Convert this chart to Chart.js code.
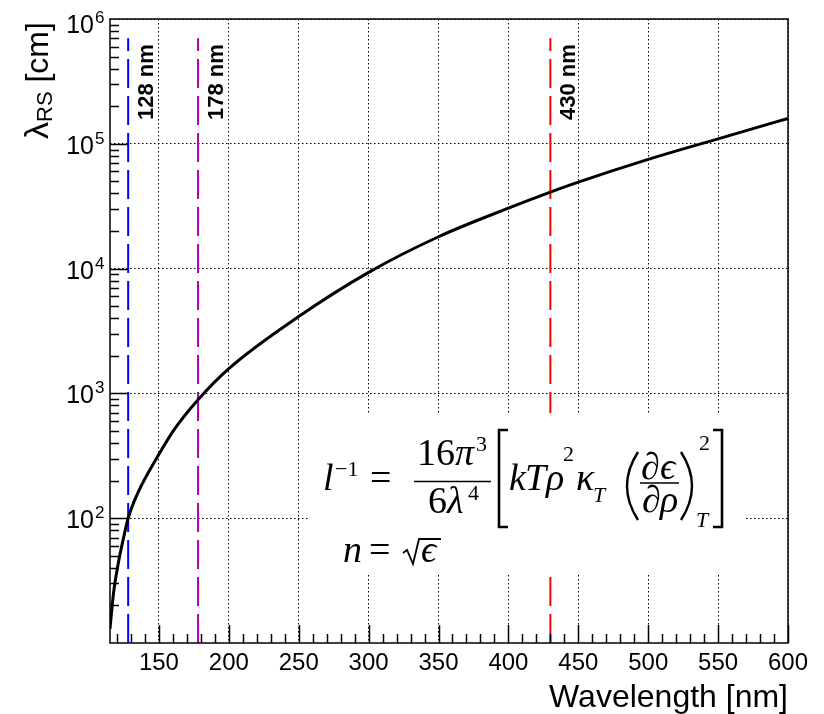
<!DOCTYPE html>
<html>
<head>
<meta charset="utf-8">
<script src="https://cdn.jsdelivr.net/npm/chart.js@4.4.1/dist/chart.umd.min.js"></script>
<style>
  html, body { margin: 0; padding: 0; background: #fff; }
  canvas { display: block; }
</style>
</head>
<body>
<canvas id="chart" width="824" height="714"></canvas>
<script>
// Rayleigh scattering length vs wavelength
const wavelengths = [115, 117.5, 121, 124.5, 128, 135, 150, 161, 178, 200, 250, 300, 350, 400, 430, 450, 500, 550, 600];
const scatterLength = [13, 25, 44, 68, 100, 160, 325, 515, 890, 1580, 4130, 9330, 18000, 30500, 41000, 49300, 75000, 109600, 160000];

// vertical marker lines
const markerNm = [128, 178, 430];
const markerLabels = ['128 nm', '178 nm', '430 nm'];
const markerColors = ['#0000ff', '#aa00aa', '#ff0000'];
const markerRange = [10, 7e5];

const xTicks = [150, 200, 250, 300, 350, 400, 450, 500, 550, 600];
const yTicks = [1e2, 1e3, 1e4, 1e5, 1e6];

const SANS = '"Liberation Sans", Arial, Helvetica, sans-serif';
const SERIF = '"Liberation Serif", "DejaVu Serif", serif';

function curveData() {
    return wavelengths.map((w, i) => ({x: w, y: scatterLength[i]}));
}

function markerDatasets() {
    return markerNm.map((w, i) => ({
        data: markerRange.map(v => ({x: w, y: v})),
        borderColor: markerColors[i],
        borderWidth: 2,
        borderDash: [29, 8],
        pointRadius: 0,
        fill: false
    }));
}

// formula pave (white box with l^-1 and n = sqrt(eps))
function drawFormula(ctx, area) {
    const bx = area.left + 198, by = area.top + 394;
    ctx.save();
    ctx.fillStyle = '#fff';
    ctx.fillRect(bx, by, 437, 162);
    ctx.fillStyle = '#000';
    ctx.strokeStyle = '#000';
    ctx.textBaseline = 'alphabetic';
    ctx.textAlign = 'left';

    const t = (s, dx, dy, size, italic) => {
        ctx.font = (italic ? 'italic ' : '') + size + 'px ' + SERIF;
        ctx.fillText(s, bx + dx, by + dy);
    };
    const hline = (x1, x2, y, w) => {
        ctx.lineWidth = w;
        ctx.beginPath();
        ctx.moveTo(bx + x1, by + y);
        ctx.lineTo(bx + x2, by + y);
        ctx.stroke();
    };
    const M = 38, S = 22;

    // l^-1 =
    t('l', 15, 77, M, true);
    t('\u22121', 27, 63, S, false);
    t('=', 62, 77, M, false);
    // 16 pi^3 / 6 lambda^4
    t('16', 109, 52, M, false);
    t('\u03c0', 147, 52, M, true);
    t('3', 168, 38, S, false);
    hline(106, 183, 68.5, 1.6);
    t('6', 120, 100, M, false);
    t('\u03bb', 139, 100, M, true);
    t('4', 160, 87, S, false);

    // brackets
    ctx.lineWidth = 2.6;
    ctx.beginPath();
    ctx.moveTo(bx + 200, by + 17); ctx.lineTo(bx + 191, by + 17);
    ctx.lineTo(bx + 191, by + 114); ctx.lineTo(bx + 200, by + 114);
    ctx.stroke();
    ctx.beginPath();
    ctx.moveTo(bx + 405, by + 17); ctx.lineTo(bx + 414, by + 17);
    ctx.lineTo(bx + 414, by + 114); ctx.lineTo(bx + 405, by + 114);
    ctx.stroke();

    // k T rho^2 kappa_T
    t('k', 201, 77, M, true);
    t('T', 217, 77, M, true);
    t('\u03c1', 238, 77, M, true);
    t('2', 255, 48, S, false);
    t('\u03ba', 268, 77, M, true);
    t('T', 285, 89, S, true);

    // ( d eps / d rho )^2_T
    ctx.lineWidth = 2.4;
    ctx.beginPath();
    ctx.moveTo(bx + 330, by + 39);
    ctx.quadraticCurveTo(bx + 308, by + 73, bx + 330, by + 107);
    ctx.stroke();
    t('\u2202', 333, 66, M, true);
    t('\u03f5', 352, 66, M, true);
    hline(332, 371, 70, 1.6);
    t('\u2202', 334, 99, M, true);
    t('\u03c1', 352, 99, M, true);
    ctx.lineWidth = 2.4;
    ctx.beginPath();
    ctx.moveTo(bx + 373, by + 39);
    ctx.quadraticCurveTo(bx + 395, by + 73, bx + 373, by + 107);
    ctx.stroke();
    t('2', 391, 37, S, false);
    t('T', 388, 114, S, true);

    // n = sqrt(eps)
    t('n', 35, 149, M, true);
    t('=', 61, 149, M, false);
    ctx.lineWidth = 1.8;
    ctx.beginPath();
    ctx.moveTo(bx + 95, by + 140);
    ctx.lineTo(bx + 99, by + 137);
    ctx.lineTo(bx + 105, by + 151);
    ctx.lineTo(bx + 111, by + 126);
    ctx.lineTo(bx + 133, by + 126);
    ctx.stroke();
    t('\u03f5', 113, 149, M, true);
    ctx.restore();
}

// ROOT style frame, inward ticks and labels
const rootAxes = {
    id: 'rootAxes',
    afterDatasetsDraw(chart) {
        drawFormula(chart.ctx, chart.chartArea);
    },
    afterDraw(chart) {
        const ctx = chart.ctx;
        const a = chart.chartArea;
        const xs = chart.scales.x, ys = chart.scales.y;
        ctx.save();
        ctx.setLineDash([]);
        ctx.strokeStyle = '#000';
        ctx.lineWidth = 1.5;
        ctx.strokeRect(a.left, a.top, a.right - a.left, a.bottom - a.top);

        // x ticks
        for (let v = 120; v <= 600; v += 10) {
            const px = Math.round(xs.getPixelForValue(v)) + 0.5;
            const len = v % 50 === 0 ? 18 : 9;
            ctx.beginPath();
            ctx.moveTo(px, a.bottom);
            ctx.lineTo(px, a.bottom - len);
            ctx.stroke();
        }
        // y ticks
        for (let d = 10; d < 1e6; d *= 10) {
            for (let m = 1; m <= 9; m++) {
                if (m === 1 && d === 10) continue;
                const py = Math.round(ys.getPixelForValue(d * m)) + 0.5;
                const len = m === 1 ? 18 : 9;
                ctx.beginPath();
                ctx.moveTo(a.left, py);
                ctx.lineTo(a.left + len, py);
                ctx.stroke();
            }
        }

        ctx.fillStyle = '#000';
        // x tick labels
        ctx.font = '24px ' + SANS;
        ctx.textAlign = 'center';
        ctx.textBaseline = 'alphabetic';
        xTicks.forEach(v => ctx.fillText(String(v), xs.getPixelForValue(v), a.bottom + 27));

        // y tick labels 10^n
        yTicks.forEach(v => {
            const py = ys.getPixelForValue(v);
            const base = Math.max(py + 10, a.top + 14);
            ctx.font = '25px ' + SANS;
            ctx.textAlign = 'right';
            ctx.fillText('10', a.left - 16, base);
            ctx.font = '17px ' + SANS;
            ctx.textAlign = 'left';
            ctx.fillText(String(Math.round(Math.log10(v))), a.left - 15, base - 10);
        });

        // x title
        ctx.font = '32px ' + SANS;
        ctx.textAlign = 'right';
        ctx.fillText('Wavelength [nm]', a.right, a.bottom + 64);

        // y title
        ctx.save();
        ctx.translate(48, a.top + 120);
        ctx.rotate(-Math.PI / 2);
        ctx.textAlign = 'left';
        ctx.font = '34px ' + SANS;
        ctx.fillText('\u03bb', 0, 0);
        let w = ctx.measureText('\u03bb').width;
        ctx.font = '22px ' + SANS;
        ctx.fillText('RS', w, 4);
        w += ctx.measureText('RS').width;
        ctx.font = '32px ' + SANS;
        ctx.fillText(' [cm]', w, 0);
        ctx.restore();

        // marker labels
        ctx.font = 'bold 22px ' + SANS;
        markerNm.forEach((v, i) => {
            ctx.save();
            ctx.translate(xs.getPixelForValue(v) + 25, a.top + 101);
            ctx.rotate(-Math.PI / 2);
            ctx.textAlign = 'left';
            ctx.fillText(markerLabels[i], 0, 0);
            ctx.restore();
        });
        ctx.restore();
    }
};

new Chart(document.getElementById('chart'), {
    type: 'line',
    data: {
        datasets: [{
            data: curveData(),
            borderColor: '#000',
            borderWidth: 3,
            pointRadius: 0,
            cubicInterpolationMode: 'monotone',
            fill: false
        }].concat(markerDatasets())
    },
    options: {
        responsive: false,
        animation: false,
        events: [],
        layout: {padding: {top: 19, right: 36, left: 0, bottom: 0}},
        plugins: {legend: {display: false}, tooltip: {enabled: false}},
        scales: {
            x: {
                type: 'linear',
                min: 115,
                max: 600,
                afterBuildTicks: s => { s.ticks = xTicks.map(v => ({value: v})); },
                afterFit: s => { s.height = 71; },
                ticks: {display: false},
                grid: {color: '#000', lineWidth: 1, drawTicks: false},
                border: {display: false, dash: [1.5, 2.5]}
            },
            y: {
                type: 'logarithmic',
                min: 10,
                max: 1e6,
                afterBuildTicks: s => { s.ticks = yTicks.map(v => ({value: v})); },
                afterFit: s => { s.width = 110; },
                ticks: {display: false},
                grid: {color: '#000', lineWidth: 1, drawTicks: false},
                border: {display: false, dash: [1.5, 2.5]}
            }
        }
    },
    plugins: [rootAxes]
});
</script>
</body>
</html>
